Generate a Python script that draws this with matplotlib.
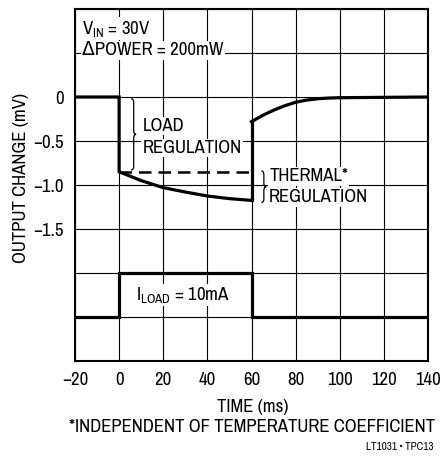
import matplotlib
matplotlib.use("Agg")
import matplotlib.pyplot as plt
from matplotlib.path import Path
from matplotlib.patches import PathPatch

FONT = ["Archivo Narrow", "DejaVu Sans"]
plt.rcParams["font.family"] = FONT
plt.rcParams["mathtext.fontset"] = "custom"
plt.rcParams["mathtext.rm"] = "Archivo Narrow"
plt.rcParams["mathtext.it"] = "Archivo Narrow"

# Output change (mV) vs time (ms)
flat_t = [-20, 0]
flat_v = [0, 0]
thermal_t = [0, 10, 20, 30, 40, 50, 60]
thermal_v = [-0.85, -0.95, -1.03, -1.08, -1.125, -1.155, -1.175]
recovery_t = [60, 65, 70, 75, 80, 85, 90, 95, 100, 140]
recovery_v = [-0.28, -0.21, -0.15, -0.10, -0.06, -0.035, -0.02, -0.012, -0.008, 0]
load_reg = -0.85  # dashed line level
# Load current pulse drawn in chart units (low / high levels)
load_t = [-20, 0, 0, 60, 60, 140]
load_v = [-2.5, -2.5, -2.0, -2.0, -2.5, -2.5]

x_ticks = [-20, 0, 20, 40, 60, 80, 100, 120, 140]
y_grid = [1.0, 0.5, 0, -0.5, -1.0, -1.5, -2.0, -2.5, -3.0]
y_labels = {0: "0", -0.5: "\u22120.5", -1.0: "\u22121.0", -1.5: "\u22121.5"}

FS = 13.5


def brace(ax, x, y_top, y_bot, w):
    """Right-facing curly brace between y_top and y_bot at x (data units)"""
    ym = (y_top + y_bot) / 2.0
    h = 0.04
    verts = [(x, y_top), (x + w * 0.5, y_top), (x + w * 0.5, y_top - h), (x + w * 0.5, y_top - h),
             (x + w * 0.5, ym + h),
             (x + w * 0.5, ym), (x + w, ym), (x + w, ym),
             (x + w * 0.5, ym), (x + w * 0.5, ym - h), (x + w * 0.5, ym - h),
             (x + w * 0.5, y_bot + h),
             (x + w * 0.5, y_bot), (x, y_bot), (x, y_bot)]
    codes = [Path.MOVETO, Path.CURVE4, Path.CURVE4, Path.CURVE4,
             Path.LINETO,
             Path.CURVE4, Path.CURVE4, Path.CURVE4,
             Path.CURVE4, Path.CURVE4, Path.CURVE4,
             Path.LINETO,
             Path.CURVE4, Path.CURVE4, Path.CURVE4]
    ax.add_patch(PathPatch(Path(verts, codes), fill=False, lw=0.9, color="black", zorder=5))


fig = plt.figure(figsize=(4.42, 4.61), dpi=100)
ax = fig.add_axes([75 / 442, 1 - 361 / 461, 353 / 442, 352 / 461])
ax.set_xlim(-20, 140)
ax.set_ylim(-3.0, 1.0)

ax.set_xticks(x_ticks)
ax.set_xticklabels(["\u221220" if t < 0 else str(t) for t in x_ticks], fontsize=FS)
ax.set_yticks(y_grid)
ax.set_yticklabels([y_labels.get(v, "") for v in y_grid], fontsize=FS)
ax.tick_params(length=0, pad=8)
ax.grid(True, color="black", lw=0.8, zorder=0)
for s in ax.spines.values():
    s.set_linewidth(1.5)

lw = 2.3
ax.plot(flat_t + thermal_t, flat_v + thermal_v, color="black", lw=lw, solid_joinstyle="miter", zorder=4)
ax.plot([60, 60], [thermal_v[-1], recovery_v[0]], color="black", lw=lw, zorder=4)
ax.plot(recovery_t, recovery_v, color="black", lw=lw, zorder=4)
ax.plot([0, 60], [load_reg, load_reg], color="black", lw=1.8, ls=(0, (5, 2.8)), zorder=3)
ax.plot(load_t, load_v, color="black", lw=lw, solid_joinstyle="miter", zorder=4)

box = dict(facecolor="white", edgecolor="none", pad=1)
ax.text(-16.8, 0.775, "V$_{\\mathrm{IN}}$ = 30V", fontsize=FS, va="center", bbox=box, zorder=3)
ax.text(-16.8, 0.53, "\u0394POWER = 200mW", fontsize=FS, va="center", bbox=box, zorder=3)
ax.text(10.5, -0.33, "LOAD", fontsize=FS, va="center", bbox=box, zorder=3)
ax.text(10.5, -0.58, "REGULATION", fontsize=FS, va="center", bbox=box, zorder=3)
ax.text(68, -0.9, "THERMAL*", fontsize=FS, va="center", bbox=box, zorder=3)
ax.text(68, -1.14, "REGULATION", fontsize=FS, va="center", bbox=box, zorder=3)
ax.text(7.5, -2.25, "I$_{\\mathrm{LOAD}}$ = 10mA", fontsize=FS, va="center", bbox=box, zorder=3)

brace(ax, 5.5, -0.02, -0.83, 2.2)
brace(ax, 64.5, -0.84, -1.2, 2.2)

fig.text(21 / 442, 1 - 178 / 461, "OUTPUT CHANGE (mV)", rotation=90, fontsize=FS, ha="center", va="center")
fig.text(253 / 442, 1 - 407 / 461, "TIME (ms)", fontsize=FS, ha="center", va="center")
fig.text(252 / 442, 1 - 427 / 461, "*INDEPENDENT OF TEMPERATURE COEFFICIENT", fontsize=FS, ha="center", va="center")
fig.text(433 / 442, 1 - 447 / 461, "LT1031 \u2022 TPC13", fontsize=8, ha="right", va="center")

fig.savefig("out.png", dpi=100)
